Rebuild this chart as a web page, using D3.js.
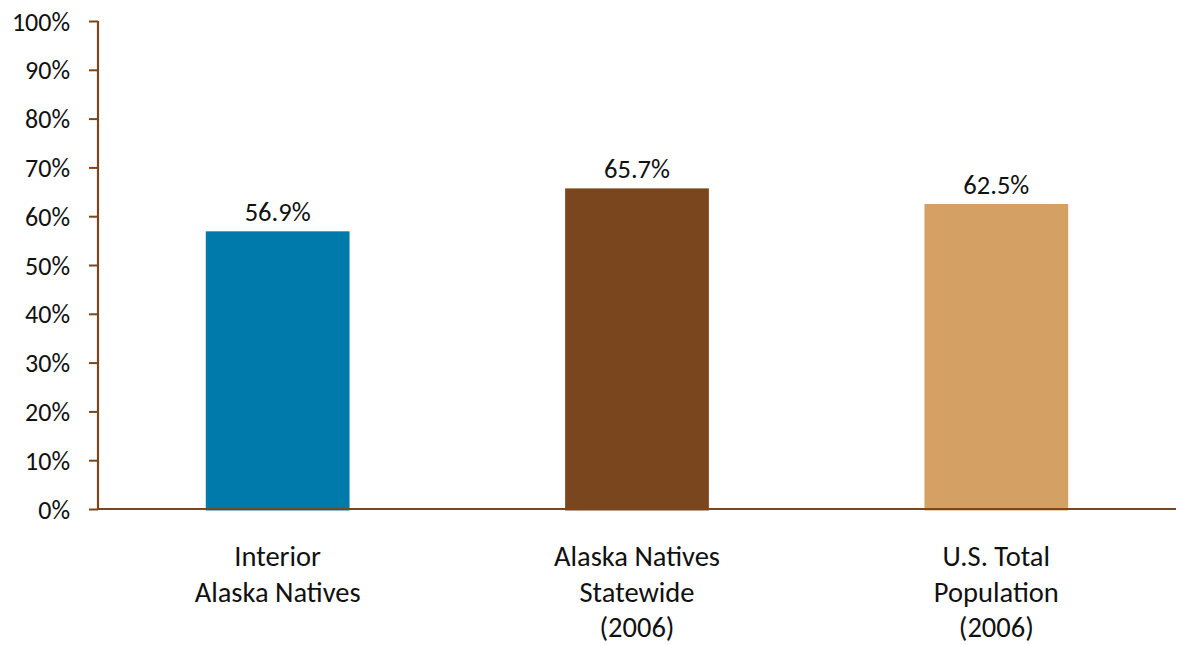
<!DOCTYPE html>
<html>
<head>
<meta charset="utf-8">
<script src="https://cdn.jsdelivr.net/npm/d3@7"></script>
<style>
  html, body { margin: 0; padding: 0; background: #fff; }
  svg { display: block; font-family: Carlito, Calibri, Lato, "Open Sans", sans-serif; }
</style>
</head>
<body>
<svg id="chart" width="1178" height="645"></svg>
<script>
// Category labels (one array entry per text line)
const categories = [
  ["Interior", "Alaska Natives"],
  ["Alaska Natives", "Statewide", "(2006)"],
  ["U.S. Total", "Population", "(2006)"]
];
// Percent values for each bar
const values = [56.9, 65.7, 62.5];
const barColors = ["#007aab", "#7a461e", "#d4a063"];
const yTicks = [0, 10, 20, 30, 40, 50, 60, 70, 80, 90, 100];

const axisColor = "#7a461e";
const svg = d3.select("#chart");

const plotLeft = 98, plotRight = 1176, plotTop = 21, plotBottom = 509;

const x = d3.scaleBand()
  .domain(d3.range(categories.length))
  .range([plotLeft, plotRight]);
const y = d3.scaleLinear().domain([0, 100]).range([plotBottom, plotTop]);

const barW = x.step() * 0.4;

// Bars
svg.append("g").selectAll("rect")
  .data(values)
  .join("rect")
  .attr("x", (d, i) => x(i) + x.bandwidth() / 2 - barW / 2)
  .attr("width", barW)
  .attr("y", d => y(d))
  .attr("height", d => y(0) - y(d) + 1.5)
  .attr("fill", (d, i) => barColors[i]);

// Value labels
svg.append("g").selectAll("text")
  .data(values)
  .join("text")
  .attr("x", (d, i) => x(i) + x.bandwidth() / 2)
  .attr("y", d => y(d) - 10)
  .attr("text-anchor", "middle")
  .attr("font-size", 26.5)
  .attr("fill", "#111")
  .text(d => d.toFixed(1) + "%");

// Y axis
const yAxis = svg.append("g")
  .attr("transform", `translate(${plotLeft},0)`)
  .call(d3.axisLeft(y).tickValues(yTicks).tickSize(9).tickPadding(19)
    .tickFormat(d => d + "%"));
yAxis.select(".domain").attr("stroke", axisColor).attr("stroke-width", 2.2)
  .attr("d", `M0,${plotTop}V${plotBottom}`);
yAxis.selectAll(".tick line").attr("stroke", axisColor).attr("stroke-width", 2);
yAxis.selectAll(".tick text")
  .attr("font-size", 26)
  .attr("fill", "#111")
  .attr("dy", "0.35em")
  .style("font-family", "Carlito, Calibri, Lato, 'Open Sans', sans-serif");

// X axis baseline
svg.append("line")
  .attr("x1", plotLeft - 1).attr("x2", plotRight)
  .attr("y1", y(0)).attr("y2", y(0))
  .attr("stroke", axisColor).attr("stroke-width", 2.2);

// Category labels
const catG = svg.append("g").selectAll("text")
  .data(categories)
  .join("text")
  .attr("text-anchor", "middle")
  .attr("font-size", 28.5)
  .attr("fill", "#111");
catG.selectAll("tspan")
  .data((d, i) => d.map(line => ({ line, i })))
  .join("tspan")
  .attr("x", d => x(d.i) + x.bandwidth() / 2)
  .attr("y", (d, j) => plotBottom + 57 + j * 35.5)
  .text(d => d.line);
</script>
</body>
</html>
